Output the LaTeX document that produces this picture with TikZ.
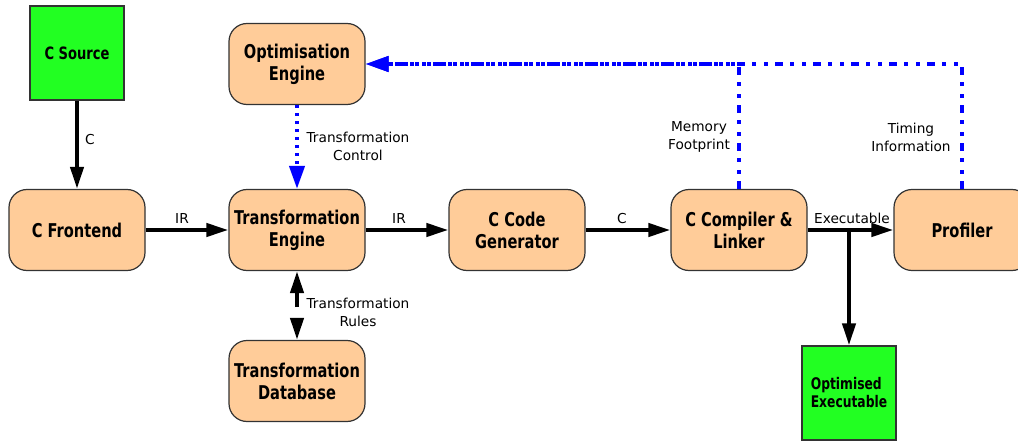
\documentclass[tikz,border=0pt]{standalone}
\usepackage{fontspec}
\setmainfont{DejaVu Sans}
\newfontfamily\boxfont[FakeStretch=0.77]{DejaVu Sans}
\usetikzlibrary{arrows.meta}
\definecolor{peach}{RGB}{255,204,153}
\definecolor{srcgreen}{RGB}{34,255,34}
\definecolor{edge}{RGB}{51,51,51}
\definecolor{fb}{RGB}{0,0,255}
\tikzset{
  stage/.style={draw=edge, line width=1.2pt, fill=peach, rounded corners=18pt,
    minimum width=136pt, minimum height=81pt, inner sep=0pt, align=center,
    font=\boxfont\bfseries\fontsize{19}{22}\selectfont},
  artefact/.style={draw=edge, line width=1.2pt, fill=srcgreen,
    minimum width=94pt, minimum height=94pt, inner sep=0pt},
  flow/.style={line width=4pt, -{Triangle[length=22pt,width=13pt]}},
  feedback/.style={fb, line width=4pt, -{Triangle[length=23pt,width=15pt]},
    dash pattern=on 8pt off 7pt on 4pt off 8pt on 4pt off 7pt},
  control/.style={fb, line width=4pt, -{Triangle[length=23pt,width=15pt]},
    dash pattern=on 3pt off 5pt},
  lbl/.style={inner sep=0pt, align=center, font=\fontsize{13.7}{18}\selectfont}
}
\begin{document}
\begin{tikzpicture}[x=1pt, y=-1pt]
\useasboundingbox (0,0) rectangle (1018,441);
\clip (0,0) rectangle (1018,441);

% processing stages
\node[stage] (cf)  at (77,230)  {C Frontend};
\node[stage] (oe)  at (297,64)  {Optimisation\\Engine};
\node[stage] (te)  at (297,230) {Transformation\\Engine};
\node[stage] (ccg) at (517,230) {C Code\\Generator};
\node[stage] (ccl) at (739,230) {C Compiler \&\\Linker};
\node[stage] (pr)  at (962,230) {Profiler};
\node[stage] (tdb) at (297,381) {Transformation\\Database};

% input and output artefacts
\node[artefact, font=\boxfont\bfseries\fontsize{17}{20}\selectfont] (cs) at (77,53) {C Source};
\node[artefact, align=left, font=\boxfont\bfseries\fontsize{16}{18}\selectfont] (ox) at (849,393) {Optimised\\Executable};

% main data flow
\draw[flow] (cs) -- (cf);
\draw[flow] (cf) -- (te);
\draw[flow] (te) -- (ccg);
\draw[flow] (ccg) -- (ccl);
\draw[flow] (ccl) -- (pr);
\coordinate (split) at (ox.north |- ccl.east);
\draw[flow] (split) -- (ox);

% transformation rules exchange
\coordinate (rulesup) at (297,307);
\coordinate (rulesdown) at (297,318);
\draw[flow] (rulesup) -- (te.south);
\draw[flow] (rulesdown) -- (tdb.north);

% feedback to the optimiser
\draw[control] (oe.south) -- (te.north);
\draw[feedback] (ccl.north) |- (oe.east);
\draw[feedback] (pr.north) |- (oe.east);

% connector labels
\node[lbl] (lc1) at (90,140) {C};
\node[lbl] (lir1) at (182,219) {IR};
\node[lbl] (lir2) at (399,219) {IR};
\node[lbl] (lc2) at (622,219) {C};
\node[lbl] (lexe) at (852,218) {Executable};
\node[lbl] (lmem) at (699,137) {Memory\\Footprint};
\node[lbl] (ltim) at (911,137) {Timing\\Information};
\node[lbl] (lctl) at (358,146) {Transformation\\Control};
\node[lbl] (lrul) at (358,312) {Transformation\\Rules};
\end{tikzpicture}
\end{document}
